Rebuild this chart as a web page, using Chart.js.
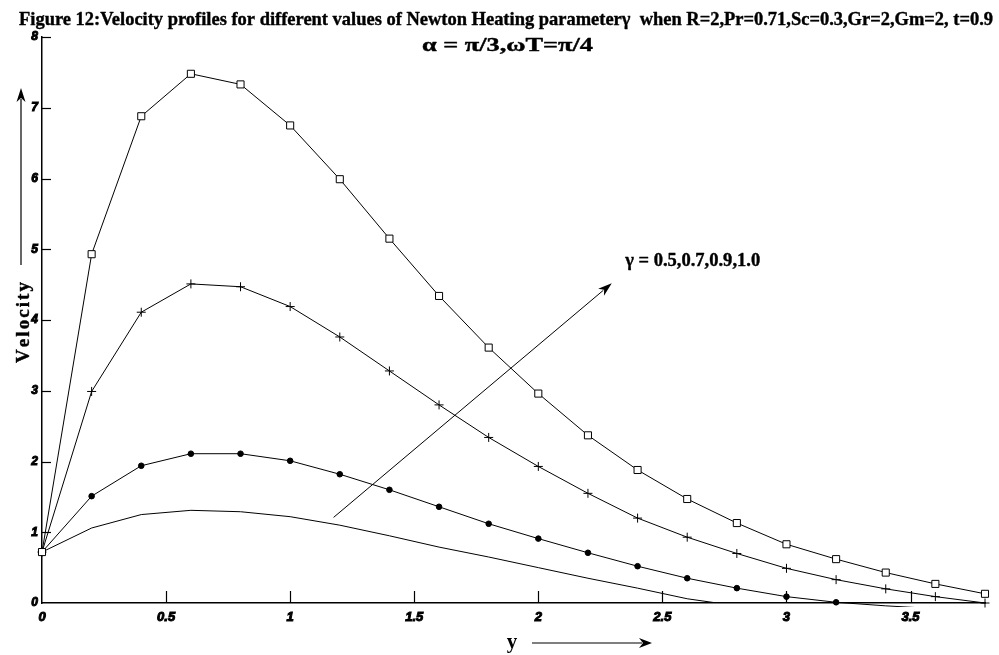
<!DOCTYPE html>
<html>
<head>
<meta charset="utf-8">
<script src="https://cdn.jsdelivr.net/npm/chart.js@4.4.1/dist/chart.umd.min.js"></script>
<style>
  html, body { margin: 0; padding: 0; background: #ffffff; }
  #wrap { position: relative; width: 999px; height: 655px; }
</style>
</head>
<body>
<div id="wrap"><canvas id="chart" width="999" height="655"></canvas></div>
<script>
// Distance from the plate, y
const yValues = [0, 0.2, 0.4, 0.6, 0.8, 1.0, 1.2, 1.4, 1.6, 1.8, 2.0, 2.2, 2.4, 2.6, 2.8, 3.0, 3.2, 3.4, 3.6, 3.8];

// Velocity for each Newton heating parameter gamma
const velocityGamma10 = [0.72, 4.93, 6.88, 7.48, 7.33, 6.75, 5.99, 5.15, 4.34, 3.61, 2.96, 2.37, 1.88, 1.47, 1.13, 0.83, 0.62, 0.43, 0.27, 0.13];
const velocityGamma09 = [0.72, 2.99, 4.11, 4.51, 4.47, 4.19, 3.76, 3.28, 2.80, 2.34, 1.93, 1.55, 1.20, 0.93, 0.70, 0.49, 0.33, 0.20, 0.09, 0.00];
const velocityGamma07 = [0.72, 1.51, 1.94, 2.11, 2.11, 2.01, 1.82, 1.60, 1.36, 1.12, 0.91, 0.71, 0.52, 0.35, 0.21, 0.09, 0.01, -0.04, -0.08, -0.11];
const velocityGamma05 = [0.72, 1.06, 1.25, 1.31, 1.29, 1.22, 1.10, 0.95, 0.79, 0.65, 0.50, 0.35, 0.21, 0.06, -0.04, -0.12, -0.18, -0.23, -0.26, -0.28];

// Axis ranges and tick spacing
const xRange = [0, 3.8];
const yRange = [0, 8];
const xTickStep = 0.5;
const yTickStep = 1;

// Texts
const titleLine1 = 'Figure 12:Velocity profiles for different values of Newton Heating parameter\u03b3  when R=2,Pr=0.71,Sc=0.3,Gr=2,Gm=2, t=0.9';
const titleLine2 = '\u03b1 = \u03c0/3,\u03c9T=\u03c0/4';
const gammaLabel = '\u03b3 = 0.5,0.7,0.9,1.0';
const yAxisTitle = 'Velocity';
const xAxisTitle = 'y';

// Direction-of-increasing-gamma arrow, in data units (y, velocity)
const gammaArrowFrom = [1.175, 1.21];
const gammaArrowTo = [2.296, 4.52];
const gammaLabelAt = [2.35, 4.76];

const toPoints = (vals) => yValues.map((x, i) => ({ x: x, y: vals[i] }));

function fitText(ctx, text, x, y, width, font, stroke) {
  ctx.save();
  ctx.font = font;
  const w = ctx.measureText(text).width;
  ctx.translate(x, y);
  ctx.scale(width / w, 1);
  ctx.textAlign = 'left';
  ctx.textBaseline = 'alphabetic';
  if (stroke) {
    ctx.lineWidth = stroke;
    ctx.lineJoin = 'round';
    ctx.strokeText(text, 0, 0);
  }
  ctx.fillText(text, 0, 0);
  ctx.restore();
}

function arrow(ctx, x1, y1, x2, y2, headLen, headHalf) {
  const ang = Math.atan2(y2 - y1, x2 - x1);
  const bx = x2 - headLen * Math.cos(ang);
  const by = y2 - headLen * Math.sin(ang);
  ctx.beginPath();
  ctx.moveTo(x1, y1);
  ctx.lineTo(bx + 3 * Math.cos(ang), by + 3 * Math.sin(ang));
  ctx.stroke();
  const px = -Math.sin(ang), py = Math.cos(ang);
  ctx.beginPath();
  ctx.moveTo(x2, y2);
  ctx.lineTo(bx + px * headHalf, by + py * headHalf);
  ctx.lineTo(bx + 4 * Math.cos(ang), by + 4 * Math.sin(ang));
  ctx.lineTo(bx - px * headHalf, by - py * headHalf);
  ctx.closePath();
  ctx.fill();
}

const decorations = {
  id: 'decorations',
  afterDatasetsDraw(chart) {
    const ctx = chart.ctx;
    const xs = chart.scales.x, ys = chart.scales.y;
    ctx.save();
    ctx.fillStyle = '#000';
    ctx.strokeStyle = '#000';

    // inward tick marks
    ctx.lineWidth = 1.2;
    ys.ticks.forEach(t => {
      const py = Math.round(ys.getPixelForValue(t.value)) + 0.5;
      if (t.value === 0) return;
      ctx.beginPath();
      ctx.moveTo(xs.left, py);
      ctx.lineTo(xs.left + 9, py);
      ctx.stroke();
    });
    xs.ticks.forEach(t => {
      const px = Math.round(xs.getPixelForValue(t.value)) + 0.5;
      if (t.value === 0) return;
      ctx.beginPath();
      ctx.moveTo(px, ys.bottom);
      ctx.lineTo(px, ys.bottom - 12);
      ctx.stroke();
    });

    // titles
    fitText(ctx, titleLine1, 19, 25, 974, 'bold 19px "Liberation Serif"', 0.4);
    fitText(ctx, titleLine2, 422, 51, 171, 'bold 18px "Liberation Serif"', 0.4);

    // gamma arrow and label
    ctx.lineWidth = 1;
    arrow(ctx,
      xs.getPixelForValue(gammaArrowFrom[0]), ys.getPixelForValue(gammaArrowFrom[1]),
      xs.getPixelForValue(gammaArrowTo[0]), ys.getPixelForValue(gammaArrowTo[1]), 14, 4.5);
    fitText(ctx, gammaLabel, xs.getPixelForValue(gammaLabelAt[0]), ys.getPixelForValue(gammaLabelAt[1]), 135, 'bold 19px "Liberation Serif"', 0.4);

    // vertical axis title, letter-spaced, with arrow
    ctx.save();
    ctx.translate(29, 363);
    ctx.rotate(-Math.PI / 2);
    ctx.font = 'bold 19px "Liberation Serif"';
    ctx.textBaseline = 'alphabetic';
    ctx.lineWidth = 0.4;
    const chars = yAxisTitle.split('');
    const natural = chars.reduce((s, c) => s + ctx.measureText(c).width, 0);
    const gap = (81 - natural) / (chars.length - 1);
    let cx = 0;
    chars.forEach(c => { ctx.strokeText(c, cx, 0); ctx.fillText(c, cx, 0); cx += ctx.measureText(c).width + gap; });
    ctx.restore();
    ctx.lineWidth = 1.2;
    arrow(ctx, 21, 265, 21, 88, 14, 4.5);

    // horizontal axis title with arrow
    ctx.font = 'bold 21px "Liberation Serif"';
    ctx.textAlign = 'center';
    ctx.textBaseline = 'alphabetic';
    ctx.fillText(xAxisTitle, 512, 648);
    arrow(ctx, 532, 643, 652, 643, 13, 5);

    ctx.restore();
  }
};

const lineCommon = {
  borderColor: '#000',
  borderWidth: 1,
  tension: 0,
  fill: false,
  pointBorderColor: '#000',
  pointBorderWidth: 1
};

// markers only for points inside the plotted range
const markerRadius = (r) => (c) => (c.raw && c.raw.y < 0 ? 0 : r);

const tickFont = (size) => ({ family: '"Liberation Sans"', size: size, weight: 'bold', style: 'italic' });

new Chart(document.getElementById('chart'), {
  type: 'line',
  data: {
    datasets: [
      Object.assign({}, lineCommon, {
        label: '\u03b3 = 1.0', data: toPoints(velocityGamma10),
        pointStyle: 'rect', pointRadius: markerRadius(5), pointBackgroundColor: '#fff',
        clip: { left: 8, top: 8, right: 16, bottom: 6 }
      }),
      Object.assign({}, lineCommon, {
        label: '\u03b3 = 0.9', data: toPoints(velocityGamma09),
        pointStyle: 'cross', pointRadius: markerRadius(4.5), pointBackgroundColor: '#000',
        clip: { left: 8, top: 8, right: 16, bottom: 6 }
      }),
      Object.assign({}, lineCommon, {
        label: '\u03b3 = 0.7', data: toPoints(velocityGamma07),
        pointStyle: 'circle', pointRadius: markerRadius(2.8), pointBackgroundColor: '#000',
        clip: { left: 8, top: 8, right: 16, bottom: 4 }
      }),
      Object.assign({}, lineCommon, {
        label: '\u03b3 = 0.5', data: toPoints(velocityGamma05),
        pointRadius: 0,
        clip: { left: 8, top: 8, right: 16, bottom: 0 }
      })
    ]
  },
  options: {
    responsive: false,
    animation: false,
    events: [],
    devicePixelRatio: 1,
    layout: { padding: { top: 37, right: 14, left: 0, bottom: 0 } },
    plugins: { legend: { display: false }, title: { display: false }, tooltip: { enabled: false } },
    scales: {
      x: {
        type: 'linear',
        min: xRange[0], max: xRange[1],
        afterFit(scale) { scale.height = 52; },
        afterBuildTicks(scale) {
          scale.ticks = scale.ticks.filter(t => Math.abs(t.value / xTickStep - Math.round(t.value / xTickStep)) < 1e-6);
        },
        ticks: {
          stepSize: xTickStep,
          autoSkip: false,
          maxRotation: 0,
          padding: 7,
          color: '#000',
          textStrokeColor: '#000',
          textStrokeWidth: 1,
          font: tickFont(13),
          callback: (v) => String(Math.round(v * 10) / 10)
        },
        grid: { display: true, drawOnChartArea: false, drawTicks: false },
        border: { display: true, color: '#000', width: 1.5 }
      },
      y: {
        type: 'linear',
        min: yRange[0], max: yRange[1],
        afterFit(scale) { scale.width = 42; },
        ticks: {
          stepSize: yTickStep,
          padding: 4,
          color: '#000',
          textStrokeColor: '#000',
          textStrokeWidth: 1,
          font: tickFont(12),
          callback: (v) => String(v)
        },
        grid: { display: true, drawOnChartArea: false, drawTicks: false },
        border: { display: true, color: '#000', width: 1.5 }
      }
    }
  },
  plugins: [decorations]
});
</script>
</body>
</html>
